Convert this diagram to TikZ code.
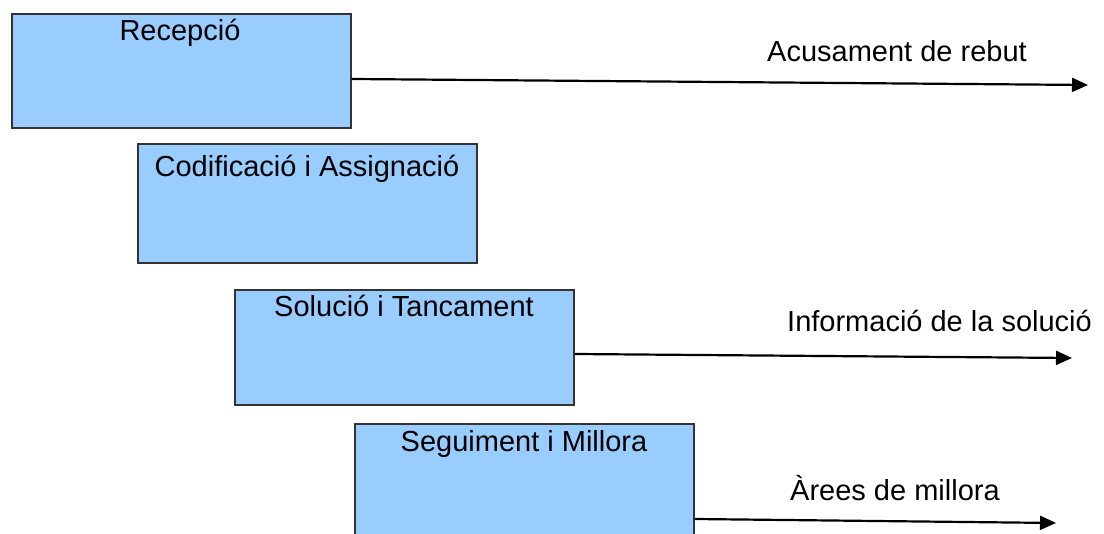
\documentclass[tikz,border=0pt]{standalone}
\usepackage{fontspec}
\setmainfont{Liberation Sans}
\usetikzlibrary{arrows.meta,calc}
\definecolor{boxblue}{HTML}{99CCFF}
\definecolor{boxline}{HTML}{333333}
\begin{document}
\begin{tikzpicture}[x=1pt,y=-1pt,
  box/.style={draw=boxline,line width=1.6pt,fill=boxblue,anchor=north west,inner sep=0pt,minimum width=339pt},
  txt/.style={anchor=base,inner sep=0pt,font=\fontsize{29}{34}\selectfont},
  lbl/.style={anchor=base west,inner sep=0pt,font=\fontsize{29}{34}\selectfont},
  arr/.style={line width=2.2pt,-{Triangle[length=16pt,width=14pt]}}]
\clip (0,0) rectangle (1104,534);
\fill[white] (0,0) rectangle (1104,534);
% boxes
\node[box,minimum height=114pt] (b1) at (11,13) {};
\node[box,minimum height=119pt] (b2) at (137,143) {};
\node[box,minimum height=115pt] (b3) at (234,289) {};
\node[box,minimum height=130pt] (b4) at (354,423) {};
% box texts
\node[txt] (t1) at (180,41) {Recepció};
\node[txt] (t2) at (307,177) {Codificació i Assignació};
\node[txt] (t3) at (404,317) {Solució i Tancament};
\node[txt] (t4) at (524,452) {Seguiment i Millora};
% arrow ends
\coordinate (e1) at (1088,85);
\coordinate (e2) at (1072,358);
\coordinate (e3) at (1056,523);
\draw[arr] ($(b1.north east)+(0,66)$) -- (e1);
\draw[arr] ($(b3.north east)+(0,65)$) -- (e2);
\draw[arr] ($(b4.north east)+(0,96)$) -- (e3);
% labels
\node[lbl] (l1) at (767,62) {Acusament de rebut};
\node[lbl] (l2) at (787,332) {Informació de la solució};
\node[lbl] (l3) at (790,501) {Àrees de millora};
\end{tikzpicture}
\end{document}
